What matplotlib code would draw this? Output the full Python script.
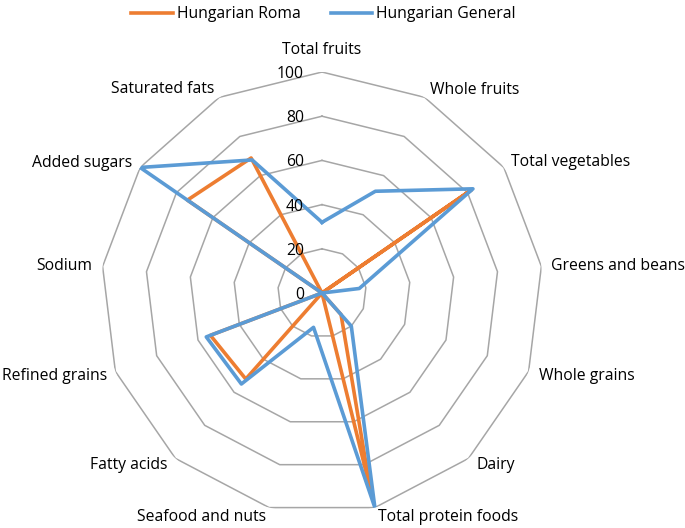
import numpy as np
import matplotlib
matplotlib.use('Agg')
import matplotlib.pyplot as plt

# Categories, clockwise from the top
categories = ['Total fruits', 'Whole fruits', 'Total vegetables', 'Greens and beans',
              'Whole grains', 'Dairy', 'Total protein foods', 'Seafood and nuts',
              'Fatty acids', 'Refined grains', 'Sodium', 'Added sugars', 'Saturated fats']
roma = [0, 0, 82, 0, 0, 13, 91, 0, 52, 54, 0, 74, 69]
general = [32, 52, 83, 17, 0, 20, 100, 16, 55, 56, 0, 100, 68]
ring_values = [0, 20, 40, 60, 80, 100]

# label offsets in pixels (dx, dy) and alignment for each category
label_offsets = [(0, 22), (5, 7), (7, 5), (10, 0), (10, -5), (8, -7), (3, -9),
                 (-3, -9), (-8, -7), (-8, -5), (-10, 0), (-8, 4), (-5, 8)]
label_ha = ['center', 'left', 'left', 'left', 'left', 'left', 'left',
            'right', 'right', 'right', 'right', 'right', 'right']

plt.rcParams['font.family'] = ['Open Sans', 'DejaVu Sans']
fontsize = 11.3

n = len(categories)
angles = np.arange(n) * 2 * np.pi / n
closed = np.append(angles, angles[0])

fig = plt.figure(figsize=(6.85, 5.28), dpi=100)
ax = fig.add_axes([0.1474, 0.0265, 0.6453, 0.8371], projection='polar')
ax.set_theta_zero_location('N')
ax.set_theta_direction(-1)
ax.set_ylim(0, 100)
ax.grid(False)
ax.spines['polar'].set_visible(False)
ax.set_xticks([])
ax.set_yticks([])
ax.patch.set_alpha(0)

# polygon rings
for rv in ring_values[1:]:
    ax.plot(closed, [rv] * (n + 1), color='#A6A6A6', lw=1.1, zorder=1)

# series
ax.plot(closed, roma + roma[:1], color='#ED7D31', lw=2.6, label='Hungarian Roma', zorder=2)
ax.plot(closed, general + general[:1], color='#5B9BD5', lw=2.6, label='Hungarian General', zorder=3)

# ring value labels
for rv in ring_values:
    ax.annotate(str(rv), xy=(0, rv), textcoords='offset pixels', xytext=(-18, -2),
                ha='right', va='center', fontsize=fontsize, color='black', zorder=4)

# category labels
for ang, cat, off, ha in zip(angles, categories, label_offsets, label_ha):
    ax.annotate(cat, xy=(ang, 100), textcoords='offset pixels', xytext=off,
                ha=ha, va='center', fontsize=fontsize, color='black', annotation_clip=False)

fig.legend(loc='upper center', bbox_to_anchor=(323.5 / 685, 1.015), ncol=2, frameon=False,
           fontsize=fontsize, handlelength=2.67, handletextpad=0.25, columnspacing=1.9)

fig.savefig('out.png', dpi=100)
